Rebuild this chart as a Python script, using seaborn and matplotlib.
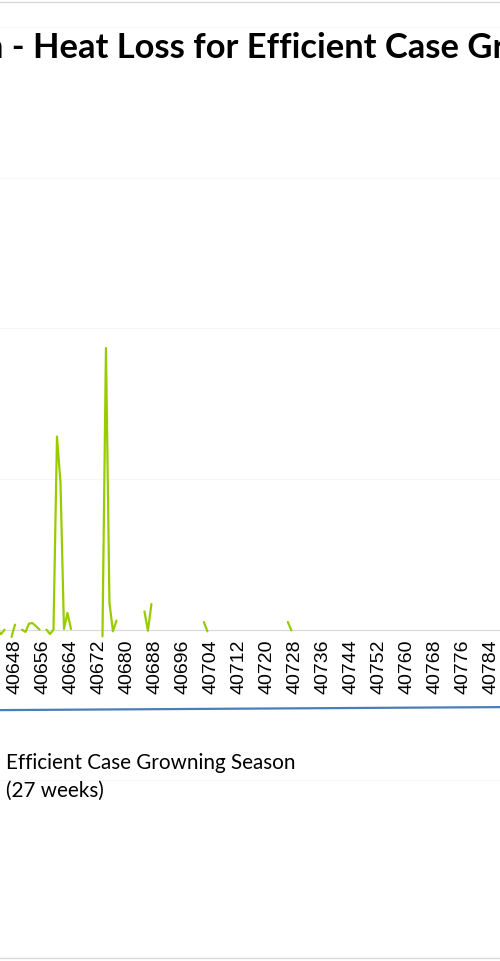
import numpy as np
import pandas as pd
import seaborn as sns
import matplotlib.pyplot as plt
from matplotlib.lines import Line2D
from matplotlib.ticker import MultipleLocator, FixedLocator, FuncFormatter

# Efficient case: heat gain - heat loss (only days with a reading; gaps are empty cells)
gain_days = [40643, 40644, 40645,
             40647, 40648,
             40650, 40651, 40652, 40653, 40654, 40655,
             40657, 40658, 40659, 40660, 40661, 40662, 40663, 40664,
             40673, 40674, 40675, 40676, 40677,
             40685, 40686, 40687,
             40702, 40703,
             40726, 40727]
gain_values = [0.0, -0.03, 0.0,
               -0.048, 0.033,
               0.0, -0.015, 0.04, 0.044, 0.023, 0.0,
               0.0, -0.029, 0.0, 1.282, 0.977, 0.005, 0.111, 0.005,
               -0.044, 1.869, 0.177, -0.011, 0.06,
               0.121, -0.007, 0.170,
               0.051, -0.011,
               0.051, -0.005]

# second series (blue), nearly flat below the axis
loss_days = [40643, 40715, 40787]
loss_values = [-0.534, -0.524, -0.514]

label_start = 40648
label_step = 8

W, H = 500, 961


def fy(px):
    return 1 - px / H


gain = pd.DataFrame({"day": gain_days, "value": gain_values})
gain["segment"] = np.cumsum(np.diff(gain["day"], prepend=gain["day"][0]) > 1)
loss = pd.DataFrame({"day": loss_days, "value": loss_values})

sns.set_style("white")
plt.rcParams["font.family"] = ["Lato", "DejaVu Sans"]

fig = plt.figure(figsize=(W / 100, H / 100), dpi=100)
ax = fig.add_axes([0, fy(931), 1, fy(27) - fy(931)])

sns.lineplot(data=loss, x="day", y="value", color="#4a7ebb", linewidth=1.6,
             ax=ax, zorder=3)
sns.lineplot(data=gain, x="day", y="value", units="segment", estimator=None,
             color="#99cc00", linewidth=1.6, ax=ax, zorder=4)

ax.set_xlim(40643.71, 40786.65)
ax.set_ylim(-2, 4)
ax.yaxis.set_major_locator(MultipleLocator(1))
ax.grid(axis="y", color="#f6f6f6", linewidth=0.8)
ax.set_yticklabels([])
ax.tick_params(axis="y", length=0)

for s in ["top", "left", "right"]:
    ax.spines[s].set_visible(False)
ax.spines["bottom"].set_position(("data", 0))
ax.spines["bottom"].set_color("#d9d9d9")
ax.spines["bottom"].set_linewidth(0.8)
ax.spines["bottom"].set_zorder(2)

ax.xaxis.set_major_locator(FixedLocator(np.arange(label_start, 40787, label_step)))
ax.xaxis.set_minor_locator(MultipleLocator(1))
ax.xaxis.set_major_formatter(FuncFormatter(lambda v, p: f"{int(round(v))}"))
ax.tick_params(axis="x", which="both", direction="out", length=5, width=0.7,
               color="#d9d9d9", pad=2)
ax.tick_params(axis="x", which="major", labelsize=14, labelrotation=90)
for t in ax.get_xticklabels():
    t.set_fontfamily(["Liberation Sans", "DejaVu Sans"])
    t.set_color("#000000")
ax.set_xlabel("")
ax.set_ylabel("")

fig.text(-16 / W, fy(48), "n - Heat Loss for Efficient Case Gr", fontsize=24.8,
         fontweight="bold", ha="left", va="center", color="#000000")
fig.text(6 / W, fy(777), "Efficient Case Growning Season\n(27 weeks)", fontsize=14.9,
         ha="left", va="center", linespacing=1.5, color="#000000")

fig.add_artist(Line2D([0, 1], [fy(2), fy(2)], color="#d9d9d9", linewidth=1.0))
fig.add_artist(Line2D([0, 1], [fy(958), fy(958)], color="#d9d9d9", linewidth=1.0))

fig.savefig("out.png", dpi=100)
